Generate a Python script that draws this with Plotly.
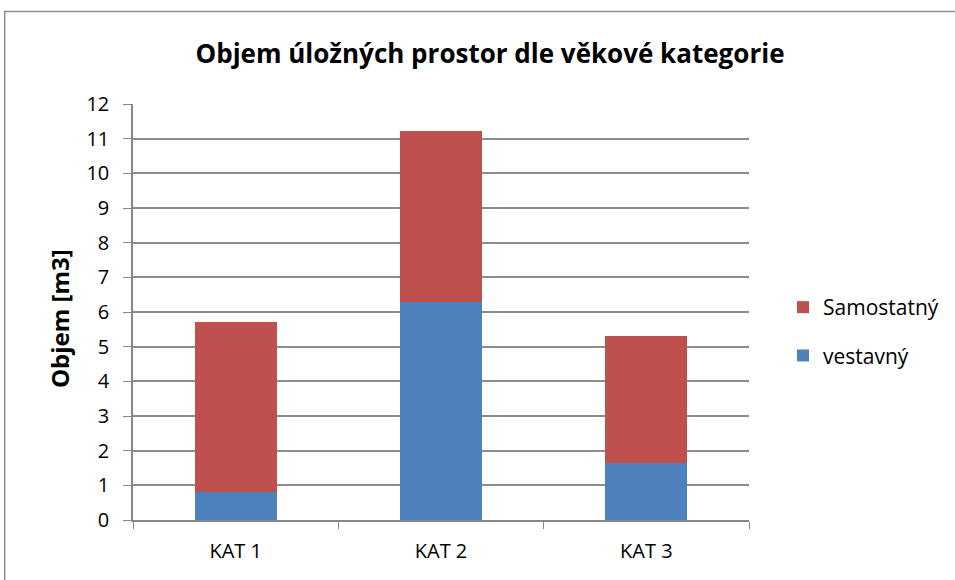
import plotly.graph_objects as go

categories = ["KAT 1", "KAT 2", "KAT 3"]
vestavny = [0.8, 6.3, 1.63]
samostatny = [4.9, 4.92, 3.69]
y_ticks = list(range(0, 13))

L, R, T, B = 133, 205, 104, 60
W, H = 955, 580
pw, ph = W - L - R, H - T - B

fig = go.Figure()
fig.add_trace(go.Bar(x=categories, y=vestavny, name="vestavný", legendgroup="b", legendrank=2,
                     marker=dict(color="#4F81BD", line=dict(width=0))))
fig.add_trace(go.Bar(x=categories, y=samostatny, name="Samostatný", legendgroup="a", legendrank=1,
                     marker=dict(color="#C0504D", line=dict(width=0))))

font_family = "Open Sans, Noto Sans, sans-serif"

fig.update_layout(
    width=W, height=H,
    margin=dict(l=L, r=R, t=T, b=B, pad=0),
    barmode="stack", bargap=0.6,
    plot_bgcolor="white", paper_bgcolor="white",
    font=dict(family=font_family, color="black", size=20),
    title=dict(text="<b>Objem úložných prostor dle věkové kategorie</b>",
               x=490 / W, xanchor="center", y=1 - 54 / H, yanchor="middle",
               font=dict(size=26, family=font_family, color="black")),
    xaxis=dict(showline=True, linecolor="#888888", linewidth=1.5,
               ticks="outside", tickson="boundaries", ticklen=7, tickcolor="#888888",
               tickfont=dict(size=20), showgrid=False, ticklabelstandoff=12),
    yaxis=dict(range=[0, 12], tickvals=y_ticks, showline=True, linecolor="#888888",
               linewidth=1.5, ticks="outside", ticklen=8, tickcolor="#888888",
               showgrid=True, gridcolor="#8c8c8c", gridwidth=1.5,
               tickfont=dict(size=20), ticklabelstandoff=10,
               zeroline=False),
    legend=dict(x=(783 - L) / pw, y=(520 - 287) / ph, yanchor="top", xanchor="left",
                traceorder="grouped", font=dict(size=21),
                tracegroupgap=18, bgcolor="rgba(0,0,0,0)"),
    showlegend=True,
)

fig.add_annotation(text="<b>Objem [m3]</b>", textangle=-90, xref="paper", yref="paper",
                   x=(59 - L) / pw, y=(520 - 319) / ph, xanchor="center", yanchor="middle",
                   showarrow=False, font=dict(size=24, family=font_family, color="black"))

fig.add_shape(type="rect", xref="paper", yref="paper",
              x0=(4.5 - L) / pw, x1=(1000 - L) / pw,
              y0=(520 - 640) / ph, y1=(520 - 11.5) / ph,
              line=dict(color="#8c8c8c", width=1.5), fillcolor="rgba(0,0,0,0)", layer="below")

fig.write_html("out.html", post_script="document.body.style.margin='0';",
               config={"displayModeBar": False})
